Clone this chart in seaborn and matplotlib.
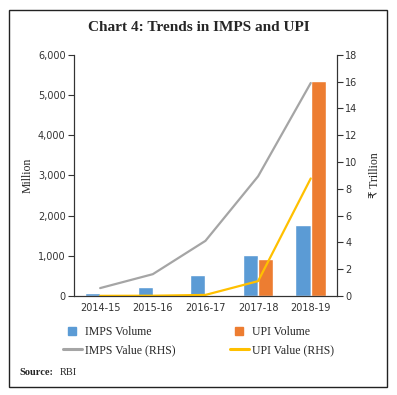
"""Chart 4: Trends in IMPS and UPI."""
import matplotlib
matplotlib.use("Agg")
import matplotlib.pyplot as plt
from matplotlib.lines import Line2D
from matplotlib.patches import Rectangle
import numpy as np
import pandas as pd
import seaborn as sns

years = ["2014-15", "2015-16", "2016-17", "2017-18", "2018-19"]
imps_volume = [78, 220, 507, 1010, 1752]
upi_volume = [0, 1, 18, 915, 5353]
imps_value = [0.58, 1.62, 4.11, 8.93, 15.9]
upi_value = [0.0, 0.01, 0.07, 1.1, 8.77]

BLUE, ORANGE, GRAY, YELLOW = "#5B9BD5", "#ED7D31", "#A5A5A5", "#FFC000"
SERIF = ["Liberation Serif", "DejaVu Sans"]

sns.set_style("white")
plt.rcParams["font.family"] = SERIF

vol = pd.DataFrame({
    "year": years * 2,
    "volume": imps_volume + upi_volume,
    "series": ["IMPS Volume"] * len(years) + ["UPI Volume"] * len(years),
})

fig = plt.figure(figsize=(3.97, 3.95), dpi=100)
ax = fig.add_axes([0.186, 0.251, 0.663, 0.610])

sns.barplot(data=vol, x="year", y="volume", hue="series",
            palette=[BLUE, ORANGE], width=0.58, gap=0, ax=ax, legend=False,
            saturation=1)
ax.set_ylim(0, 6000)
ax.set_xlim(-0.5, len(years) - 0.5)
ax.set_yticks(np.arange(0, 6001, 1000))
ax.set_yticklabels([f"{v:,}" for v in range(0, 6001, 1000)],
                   family="DejaVu Sans", fontsize=7, color="#333333")
ax.set_xlabel("")
ax.set_ylabel("Million", fontsize=8.5, labelpad=3)

pos = np.arange(len(years))
ax.set_xticks(pos)
ax.set_xticklabels(years, family="DejaVu Sans", fontsize=7, color="#333333")
ax.set_xticks(np.arange(-0.5, len(years)), minor=True)
ax.tick_params(axis="x", which="major", length=0, pad=5)
ax.tick_params(axis="x", which="minor", length=4, width=0.8, color="#333333")
ax.tick_params(axis="y", length=4, width=0.8, color="#333333", pad=2)

ax2 = ax.twinx()
sns.lineplot(x=pos, y=imps_value, color=GRAY, linewidth=1.6, ax=ax2)
sns.lineplot(x=pos, y=upi_value, color=YELLOW, linewidth=1.6, ax=ax2)
ax2.set_ylim(0, 18)
ax2.set_yticks(np.arange(0, 19, 2))
ax2.set_yticklabels([str(v) for v in range(0, 19, 2)],
                    family="DejaVu Sans", fontsize=7, color="#333333")
ax2.tick_params(axis="y", length=4, width=0.8, color="#333333", pad=2)
ax2.set_ylabel("₹ Trillion", fontsize=8.5, labelpad=8)

for a in (ax, ax2):
    a.spines["top"].set_visible(False)
    for s in ("left", "right", "bottom"):
        a.spines[s].set_color("#333333")
        a.spines[s].set_linewidth(0.8)
    a.grid(False)

sq = dict(lw=0, marker="s", markersize=6)
handles = [
    Line2D([], [], color=BLUE, label="IMPS Volume", **sq),
    Line2D([], [], color=GRAY, lw=2.2, label="IMPS Value (RHS)"),
    Line2D([], [], color=ORANGE, label="UPI Volume", **sq),
    Line2D([], [], color=YELLOW, lw=2.2, label="UPI Value (RHS)"),
]
fig.legend(handles=handles, loc="center", bbox_to_anchor=(0.5, 0.137),
           ncol=2, frameon=False, columnspacing=4.6,
           handlelength=1.6, handletextpad=0.3, labelspacing=0.5,
           prop={"family": SERIF, "size": 8.5})

fig.text(0.5, 0.93, "Chart 4: Trends in IMPS and UPI", ha="center",
         va="center", fontsize=11, fontweight="bold")
fig.text(0.05, 0.058, "Source:", fontsize=7.5, fontweight="bold", va="center")
fig.text(0.15, 0.058, "RBI", fontsize=7.5, va="center")

fig.patches.append(Rectangle((0.023, 0.020), 0.952, 0.955, fill=False,
                             edgecolor="#222222", linewidth=1,
                             transform=fig.transFigure, figure=fig))

fig.savefig("out.png", dpi=100)
plt.close(fig)
